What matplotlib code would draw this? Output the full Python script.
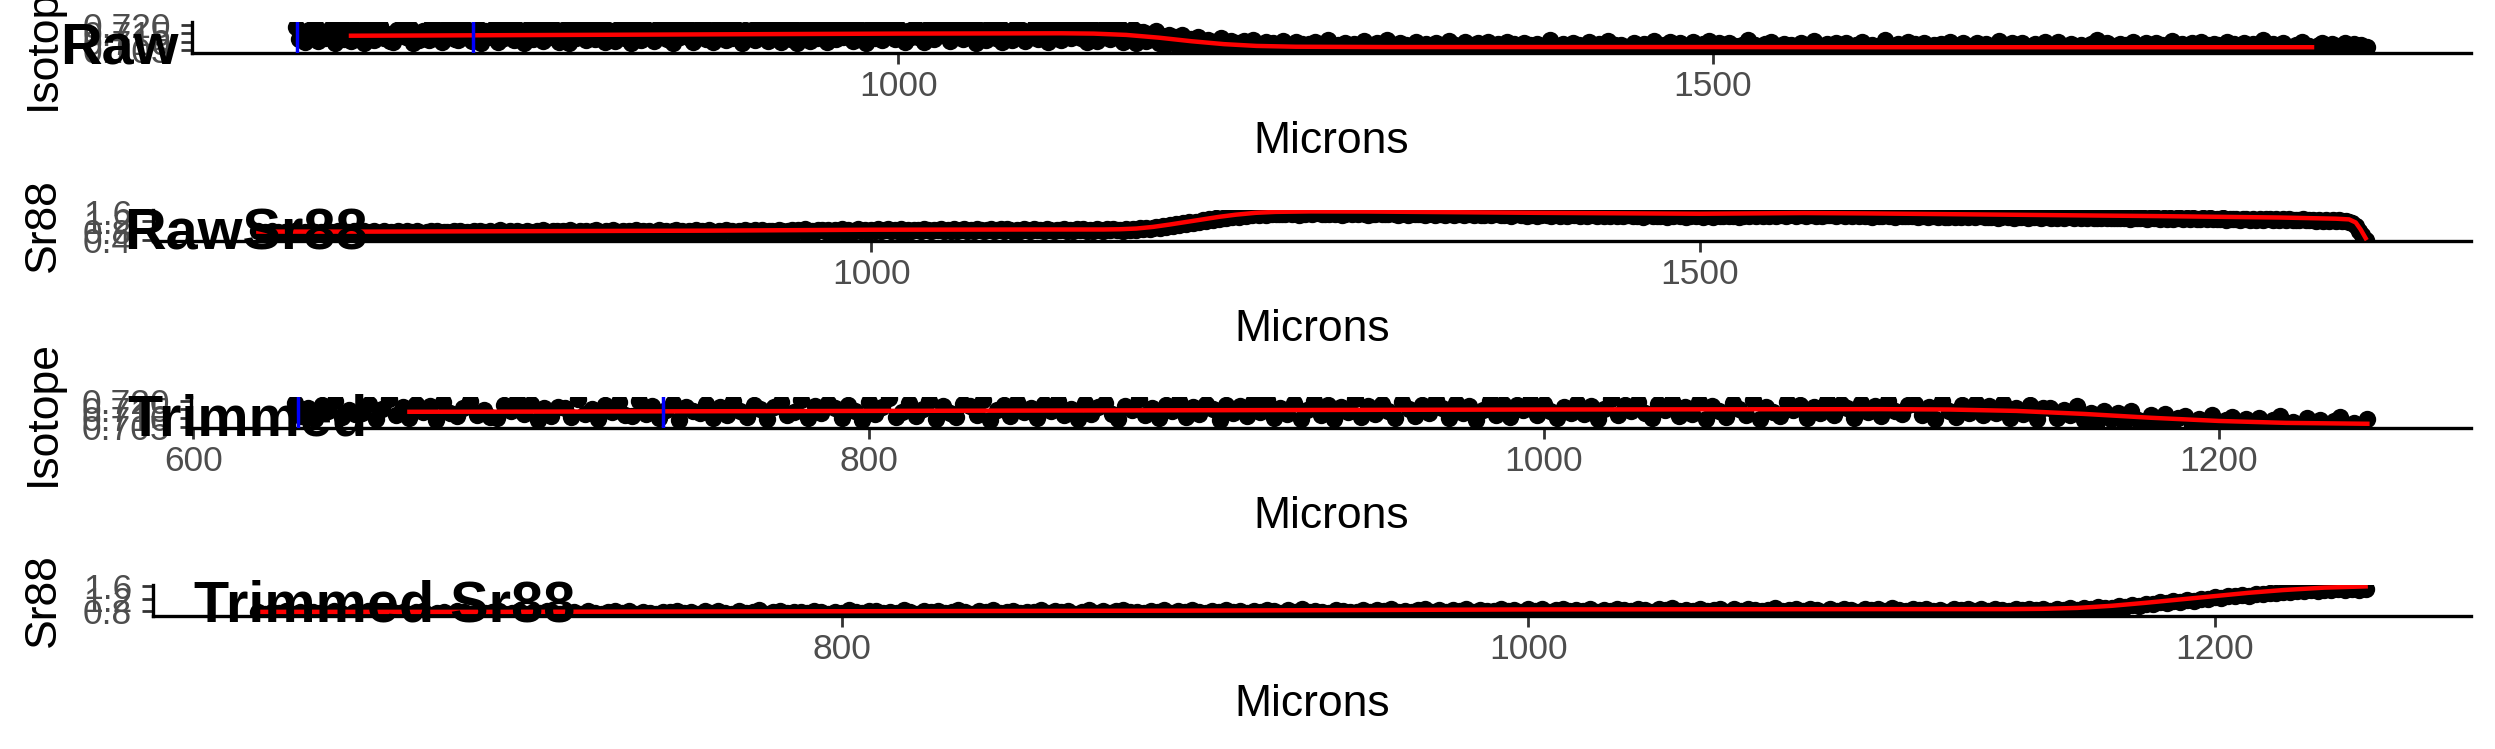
import numpy as np
import matplotlib
matplotlib.use("Agg")
import matplotlib.pyplot as plt

plt.rcParams['font.family'] = ['Liberation Sans', 'DejaVu Sans']

W, H, DPI = 2495, 749, 100

# laser track: first spot and spot spacing (microns)
START_UM = 630
STEP_UM = 2
TRIM_END_UM = 1244

# 87Sr/86Sr ratio, one value per spot (20 microns per row)
iso_raw = [
    0.7187, 0.7114, 0.7157, 0.7097, 0.7172, 0.7139, 0.7200, 0.7106, 0.7148, 0.7123,
    0.7128, 0.7181, 0.7093, 0.7153, 0.7206, 0.7117, 0.7164, 0.7101, 0.7178, 0.7136,
    0.7169, 0.7090, 0.7192, 0.7132, 0.7110, 0.7160, 0.7195, 0.7119, 0.7149, 0.7104,
    0.7099, 0.7174, 0.7142, 0.7203, 0.7125, 0.7183, 0.7088, 0.7155, 0.7112, 0.7166,
    0.7159, 0.7107, 0.7208, 0.7121, 0.7151, 0.7095, 0.7176, 0.7134, 0.7190, 0.7116,
    0.7111, 0.7197, 0.7126, 0.7171, 0.7102, 0.7147, 0.7185, 0.7092, 0.7163, 0.7138,
    0.7131, 0.7182, 0.7098, 0.7165, 0.7120, 0.7199, 0.7143, 0.7108, 0.7176, 0.7152,
    0.7094, 0.7161, 0.7189, 0.7115, 0.7137, 0.7205, 0.7103, 0.7168, 0.7127, 0.7184,
    0.7156, 0.7100, 0.7173, 0.7140, 0.7091, 0.7194, 0.7122, 0.7162, 0.7212, 0.7109,
    0.7135, 0.7186, 0.7113, 0.7150, 0.7198, 0.7096, 0.7170, 0.7129, 0.7105, 0.7180,
    0.7167, 0.7119, 0.7201, 0.7089, 0.7144, 0.7175, 0.7110, 0.7191, 0.7133, 0.7158,
    0.7102, 0.7179, 0.7141, 0.7196, 0.7118, 0.7154, 0.7093, 0.7185, 0.7126, 0.7163,
    0.7188, 0.7124, 0.7097, 0.7170, 0.7146, 0.7207, 0.7115, 0.7159, 0.7100, 0.7177,
    0.7138, 0.7195, 0.7107, 0.7164, 0.7121, 0.7183, 0.7150, 0.7092, 0.7173, 0.7130,
    0.7170, 0.7112, 0.7191, 0.7136, 0.7203, 0.7101, 0.7159, 0.7125, 0.7184, 0.7095,
    0.7145, 0.7198, 0.7118, 0.7176, 0.7093, 0.7162, 0.7133, 0.7210, 0.7106, 0.7168,
    0.7123, 0.7181, 0.7140, 0.7099, 0.7194, 0.7152, 0.7114, 0.7175, 0.7131, 0.7205,
    0.7160, 0.7103, 0.7186, 0.7127, 0.7169, 0.7092, 0.7147, 0.7199, 0.7120, 0.7178,
    0.7109, 0.7172, 0.7149, 0.7196, 0.7116, 0.7183, 0.7138, 0.7100, 0.7165, 0.7128,
    0.7187, 0.7125, 0.7168, 0.7097, 0.7154, 0.7206, 0.7118, 0.7176, 0.7140, 0.7193,
    0.7132, 0.7101, 0.7179, 0.7145, 0.7198, 0.7113, 0.7163, 0.7126, 0.7189, 0.7094,
    0.7171, 0.7139, 0.7107, 0.7185, 0.7152, 0.7120, 0.7202, 0.7096, 0.7166, 0.7135,
    0.7110, 0.7190, 0.7148, 0.7174, 0.7103, 0.7161, 0.7129, 0.7195, 0.7117, 0.7182,
    0.7157, 0.7099, 0.7186, 0.7134, 0.7170, 0.7111, 0.7200, 0.7143, 0.7121, 0.7177,
    0.7181, 0.7120, 0.7162, 0.7097, 0.7195, 0.7138, 0.7105, 0.7173, 0.7129, 0.7188,
    0.7116, 0.7170, 0.7131, 0.7184, 0.7098, 0.7155, 0.7122, 0.7176, 0.7093, 0.7160,
    0.7158, 0.7101, 0.7149, 0.7115, 0.7167, 0.7088, 0.7132, 0.7079, 0.7141, 0.7095,
    0.7128, 0.7072, 0.7139, 0.7090, 0.7064, 0.7118, 0.7081, 0.7126, 0.7060, 0.7102,
    0.7112, 0.7058, 0.7097, 0.7069, 0.7120, 0.7062, 0.7088, 0.7105, 0.7055, 0.7093,
    0.7061, 0.7101, 0.7054, 0.7089, 0.7110, 0.7066, 0.7078, 0.7052, 0.7098, 0.7071,
    0.7092, 0.7057, 0.7081, 0.7104, 0.7053, 0.7075, 0.7060, 0.7096, 0.7051, 0.7085,
    0.7048, 0.7083, 0.7062, 0.7099, 0.7041, 0.7074, 0.7056, 0.7108, 0.7066, 0.7045,
    0.7079, 0.7052, 0.7093, 0.7060, 0.7039, 0.7086, 0.7070, 0.7047, 0.7101, 0.7058,
    0.7065, 0.7042, 0.7088, 0.7054, 0.7076, 0.7110, 0.7049, 0.7072, 0.7057, 0.7094,
    0.7046, 0.7081, 0.7061, 0.7038, 0.7097, 0.7068, 0.7053, 0.7085, 0.7044, 0.7075,
    0.7090, 0.7055, 0.7071, 0.7043, 0.7104, 0.7059, 0.7080, 0.7048, 0.7067, 0.7096,
    0.7052, 0.7077, 0.7040, 0.7089, 0.7063, 0.7050, 0.7100, 0.7069, 0.7045, 0.7082,
    0.7073, 0.7044, 0.7095, 0.7058, 0.7084, 0.7039, 0.7066, 0.7092, 0.7054, 0.7078,
    0.7041, 0.7087, 0.7061, 0.7074, 0.7049, 0.7112, 0.7057, 0.7070, 0.7043, 0.7083,
    0.7068, 0.7051, 0.7091, 0.7046, 0.7079, 0.7062, 0.7038, 0.7098, 0.7059, 0.7072,
    0.7086, 0.7047, 0.7064, 0.7102, 0.7055, 0.7076, 0.7042, 0.7081, 0.7053, 0.7067,
    0.7050, 0.7093, 0.7060, 0.7039, 0.7085, 0.7071, 0.7048, 0.7106, 0.7063, 0.7044,
    0.7077, 0.7056, 0.7099, 0.7045, 0.7069, 0.7088, 0.7041, 0.7074, 0.7058, 0.7095,
    0.7062, 0.7040, 0.7082, 0.7054, 0.7101, 0.7066, 0.7049, 0.7090, 0.7043, 0.7070,
    0.7089, 0.7052, 0.7073, 0.7046, 0.7080, 0.7059, 0.7109, 0.7044, 0.7076, 0.7057,
    0.7043, 0.7084, 0.7065, 0.7097, 0.7051, 0.7072, 0.7038, 0.7087, 0.7061, 0.7080,
    0.7070, 0.7047, 0.7092, 0.7058, 0.7040, 0.7078, 0.7103, 0.7054, 0.7067, 0.7045,
    0.7083, 0.7060, 0.7042, 0.7094, 0.7066, 0.7049, 0.7088, 0.7071, 0.7039, 0.7079,
    0.7055, 0.7098, 0.7064, 0.7044, 0.7081, 0.7053, 0.7075, 0.7046, 0.7111, 0.7062,
    0.7074, 0.7041, 0.7087, 0.7059, 0.7068, 0.7096, 0.7048, 0.7082, 0.7057, 0.7043,
    0.7091, 0.7063, 0.7050, 0.7078, 0.7040, 0.7085, 0.7069, 0.7052, 0.7099, 0.7060,
    0.7046, 0.7076, 0.7093, 0.7055, 0.7071, 0.7042, 0.7089, 0.7064, 0.7048, 0.7083,
    0.7067, 0.7050, 0.7080, 0.7105, 0.7045, 0.7073, 0.7058, 0.7094, 0.7041, 0.7077,
    0.7088, 0.7054, 0.7039, 0.7070, 0.7084, 0.7061, 0.7047, 0.7100, 0.7065, 0.7051,
    0.7072, 0.7096, 0.7049, 0.7063, 0.7042, 0.7086, 0.7075, 0.7053, 0.7081, 0.7044,
    0.7059, 0.7082, 0.7066, 0.7107, 0.7048, 0.7069, 0.7091, 0.7040, 0.7074, 0.7057,
    0.7085, 0.7043, 0.7078, 0.7055, 0.7097, 0.7062, 0.7046, 0.7071, 0.7089, 0.7050,
    0.7064, 0.7092, 0.7041, 0.7080, 0.7058, 0.7074, 0.7102, 0.7049, 0.7067, 0.7083,
    0.7047, 0.7071, 0.7088, 0.7056, 0.7039, 0.7095, 0.7063, 0.7078, 0.7045, 0.7086,
    0.7076, 0.7053, 0.7066, 0.7099, 0.7044, 0.7082, 0.7058, 0.7070, 0.7093, 0.7048,
    0.7062, 0.7087, 0.7050, 0.7074, 0.7108, 0.7057, 0.7041, 0.7084, 0.7066, 0.7079,
    0.7090, 0.7045, 0.7069, 0.7055, 0.7081, 0.7063, 0.7097, 0.7048, 0.7073, 0.7058,
    0.7054, 0.7078, 0.7094, 0.7043, 0.7067, 0.7085, 0.7052, 0.7071, 0.7060, 0.7088,
    0.7070, 0.7049, 0.7083, 0.7061, 0.7076, 0.7056, 0.7068,
]

# Sr88 signal (V), one value per spot (20 microns per row)
sr88_raw = [
    0.77, 0.68, 0.74, 0.71, 0.79, 0.69, 0.75, 0.67, 0.76, 0.72,
    0.70, 0.78, 0.73, 0.67, 0.76, 0.71, 0.79, 0.74, 0.68, 0.75,
    0.72, 0.77, 0.69, 0.74, 0.78, 0.67, 0.73, 0.76, 0.70, 0.79,
    0.74, 0.68, 0.77, 0.71, 0.75, 0.79, 0.69, 0.72, 0.78, 0.70,
    0.76, 0.71, 0.80, 0.73, 0.68, 0.77, 0.74, 0.70, 0.79, 0.72,
    0.69, 0.75, 0.78, 0.72, 0.80, 0.70, 0.76, 0.73, 0.68, 0.77,
    0.75, 0.79, 0.71, 0.74, 0.69, 0.78, 0.72, 0.80, 0.73, 0.70,
    0.78, 0.72, 0.76, 0.81, 0.70, 0.74, 0.79, 0.71, 0.77, 0.75,
    0.71, 0.80, 0.74, 0.69, 0.77, 0.73, 0.81, 0.75, 0.72, 0.78,
    0.79, 0.73, 0.77, 0.71, 0.82, 0.75, 0.70, 0.78, 0.74, 0.80,
    0.72, 0.77, 0.81, 0.74, 0.70, 0.79, 0.76, 0.82, 0.73, 0.75,
    0.80, 0.71, 0.77, 0.75, 0.82, 0.72, 0.78, 0.74, 0.79, 0.70,
    0.76, 0.81, 0.73, 0.79, 0.71, 0.78, 0.83, 0.74, 0.77, 0.72,
    0.80, 0.75, 0.82, 0.72, 0.78, 0.74, 0.81, 0.76, 0.71, 0.79,
    0.74, 0.82, 0.77, 0.80, 0.72, 0.79, 0.75, 0.83, 0.78, 0.73,
    0.81, 0.76, 0.84, 0.74, 0.80, 0.77, 0.73, 0.82, 0.79, 0.75,
    0.77, 0.83, 0.75, 0.81, 0.78, 0.85, 0.74, 0.80, 0.76, 0.82,
    0.84, 0.77, 0.81, 0.75, 0.83, 0.79, 0.86, 0.76, 0.82, 0.78,
    0.78, 0.85, 0.80, 0.83, 0.76, 0.84, 0.79, 0.87, 0.77, 0.82,
    0.85, 0.78, 0.83, 0.80, 0.87, 0.76, 0.82, 0.79, 0.84, 0.81,
    0.79, 0.86, 0.81, 0.77, 0.84, 0.82, 0.88, 0.78, 0.83, 0.80,
    0.85, 0.79, 0.83, 0.87, 0.77, 0.84, 0.80, 0.86, 0.81, 0.78,
    0.83, 0.88, 0.78, 0.82, 0.85, 0.79, 0.87, 0.81, 0.76, 0.84,
    0.80, 0.85, 0.82, 0.77, 0.86, 0.81, 0.84, 0.79, 0.88, 0.83,
    0.78, 0.84, 0.81, 0.87, 0.79, 0.83, 0.77, 0.85, 0.82, 0.86,
    0.80, 0.84, 0.78, 0.86, 0.82, 0.79, 0.85, 0.81, 0.87, 0.83,
    0.84, 0.80, 0.86, 0.82, 0.88, 0.83, 0.90, 0.86, 0.93, 0.89,
    0.90, 0.95, 0.93, 0.99, 0.97, 1.03, 1.01, 1.07, 1.06, 1.11,
    1.09, 1.15, 1.13, 1.19, 1.18, 1.24, 1.22, 1.28, 1.27, 1.32,
    1.30, 1.36, 1.34, 1.39, 1.37, 1.43, 1.40, 1.45, 1.44, 1.48,
    1.45, 1.49, 1.47, 1.51, 1.48, 1.52, 1.49, 1.53, 1.50, 1.52,
    1.49, 1.54, 1.50, 1.55, 1.48, 1.53, 1.51, 1.56, 1.50, 1.54,
    1.55, 1.49, 1.53, 1.50, 1.56, 1.51, 1.54, 1.48, 1.52, 1.55,
    1.50, 1.54, 1.49, 1.55, 1.52, 1.48, 1.53, 1.51, 1.56, 1.50,
    1.53, 1.49, 1.54, 1.50, 1.47, 1.52, 1.55, 1.48, 1.51, 1.53,
    1.49, 1.53, 1.47, 1.51, 1.54, 1.48, 1.50, 1.52, 1.46, 1.53,
    1.51, 1.46, 1.50, 1.53, 1.47, 1.49, 1.52, 1.45, 1.50, 1.48,
    1.47, 1.51, 1.45, 1.49, 1.52, 1.46, 1.48, 1.50, 1.44, 1.49,
    1.50, 1.45, 1.48, 1.43, 1.47, 1.50, 1.44, 1.46, 1.49, 1.45,
    1.43, 1.47, 1.49, 1.44, 1.46, 1.42, 1.48, 1.45, 1.50, 1.44,
    1.47, 1.42, 1.46, 1.48, 1.43, 1.45, 1.41, 1.47, 1.44, 1.49,
    1.43, 1.46, 1.41, 1.45, 1.48, 1.42, 1.44, 1.47, 1.40, 1.45,
    1.46, 1.41, 1.44, 1.42, 1.47, 1.40, 1.45, 1.43, 1.46, 1.41,
    1.44, 1.40, 1.43, 1.46, 1.41, 1.45, 1.39, 1.42, 1.44, 1.40,
    1.45, 1.41, 1.44, 1.47, 1.42, 1.43, 1.46, 1.40, 1.44, 1.45,
    1.42, 1.46, 1.43, 1.47, 1.41, 1.45, 1.44, 1.48, 1.43, 1.46,
    1.47, 1.43, 1.46, 1.49, 1.44, 1.45, 1.48, 1.42, 1.46, 1.47,
    1.44, 1.47, 1.42, 1.46, 1.45, 1.48, 1.43, 1.45, 1.47, 1.41,
    1.46, 1.41, 1.45, 1.43, 1.47, 1.42, 1.44, 1.40, 1.45, 1.43,
    1.41, 1.45, 1.42, 1.44, 1.40, 1.46, 1.43, 1.41, 1.44, 1.42,
    1.43, 1.39, 1.42, 1.44, 1.40, 1.41, 1.43, 1.38, 1.42, 1.40,
    1.38, 1.42, 1.40, 1.43, 1.37, 1.41, 1.39, 1.42, 1.38, 1.41,
    1.41, 1.37, 1.40, 1.38, 1.42, 1.36, 1.39, 1.41, 1.37, 1.40,
    1.36, 1.40, 1.38, 1.41, 1.35, 1.39, 1.37, 1.40, 1.36, 1.39,
    1.39, 1.35, 1.38, 1.36, 1.40, 1.34, 1.37, 1.39, 1.35, 1.38,
    1.34, 1.37, 1.35, 1.38, 1.33, 1.36, 1.34, 1.37, 1.33, 1.36,
    1.36, 1.32, 1.35, 1.33, 1.37, 1.31, 1.34, 1.36, 1.32, 1.35,
    1.31, 1.34, 1.32, 1.35, 1.30, 1.33, 1.31, 1.34, 1.30, 1.33,
    1.33, 1.29, 1.32, 1.30, 1.34, 1.28, 1.31, 1.33, 1.29, 1.32,
    1.28, 1.31, 1.29, 1.32, 1.27, 1.30, 1.28, 1.31, 1.27, 1.30,
    1.30, 1.26, 1.29, 1.27, 1.31, 1.25, 1.28, 1.30, 1.26, 1.29,
    1.25, 1.28, 1.26, 1.29, 1.24, 1.27, 1.25, 1.28, 1.24, 1.27,
    1.26, 1.22, 1.25, 1.23, 1.27, 1.21, 1.24, 1.22, 1.25, 1.20,
    1.22, 1.18, 1.12, 0.98, 0.80, 0.60, 0.42,
]

# running means (red lines)
iso_smooth_um = [664, 700, 800, 900, 1000, 1100, 1120, 1140, 1160, 1180,
                 1200, 1220, 1244, 1300, 1400, 1500, 1600, 1700, 1800, 1868]
iso_smooth = [0.7136, 0.7137, 0.7141, 0.7145, 0.7149, 0.7151, 0.7149, 0.7141, 0.7124, 0.7102,
              0.7084, 0.7073, 0.7068, 0.7066, 0.7066, 0.7066, 0.7065, 0.7065, 0.7065, 0.7065]

sr88_smooth_um = [630, 700, 800, 900, 1000, 1100, 1140, 1150, 1160, 1170,
                  1180, 1190, 1200, 1210, 1220, 1232, 1244, 1265, 1300, 1400,
                  1500, 1563, 1600, 1670, 1777, 1850, 1884, 1892, 1896, 1899, 1902]
sr88_smooth = [0.76, 0.76, 0.78, 0.80, 0.84, 0.85, 0.85, 0.86, 0.89, 0.96,
               1.06, 1.17, 1.28, 1.39, 1.48, 1.56, 1.60, 1.62, 1.615, 1.56,
               1.52, 1.55, 1.535, 1.49, 1.42, 1.36, 1.31, 1.28, 1.15, 0.85, 0.48]

# selected window (blue lines)
window_um = [631, 739]

panel_titles = ['Raw', 'RawSr88', 'Trimmed', 'Trimmed Sr88']
y_titles = ['Isotope', 'Sr88', 'Isotope', 'Sr88']
x_ticks = [[1000, 1500], [1000, 1500], [600, 800, 1000, 1200], [800, 1000, 1200]]
y_ticks = [[0.705, 0.710, 0.715, 0.720], [0.4, 0.8, 1.2, 1.6],
           [0.705, 0.710, 0.715, 0.720], [0.8, 1.2, 1.6]]
y_ticklabels = [['0.705', '0.710', '0.715', '0.720'], ['0.4', '0.8', '1.2', '1.6'],
                ['0.705', '0.710', '0.715', '0.720'], ['0.8', '1.2', '1.6']]

iso = np.array(iso_raw)
sr88 = np.array(sr88_raw)
um_iso = START_UM + STEP_UM * np.arange(len(iso))
um_sr = START_UM + STEP_UM * np.arange(len(sr88))
iso_sx, iso_sy = np.array(iso_smooth_um), np.array(iso_smooth)
sr_sx, sr_sy = np.array(sr88_smooth_um), np.array(sr88_smooth)

k_iso, k_sr = um_iso <= TRIM_END_UM, um_sr <= TRIM_END_UM
ks_iso, ks_sr = iso_sx <= TRIM_END_UM, sr_sx <= TRIM_END_UM

panels = [
    (um_iso, iso, iso_sx, iso_sy, True),
    (um_sr, sr88, sr_sx, sr_sy, False),
    (um_iso[k_iso], iso[k_iso], iso_sx[ks_iso], iso_sy[ks_iso], True),
    (um_sr[k_sr], sr88[k_sr], sr_sx[ks_sr], sr_sy[ks_sr], False),
]

# pixel boxes: left, top, right, bottom
boxes = [(192, 22, 2471, 53), (153, 210, 2471, 241), (191, 397, 2471, 428), (153, 585, 2471, 616)]
title_pos = [(60, 63), (124, 250), (127, 436), (194, 622)]

fig = plt.figure(figsize=(W / DPI, H / DPI), dpi=DPI)

for k, (x, y, sx, sy, show_window) in enumerate(panels):
    l, t, r, b = boxes[k]
    ax = fig.add_axes([l / W, 1 - b / H, (r - l) / W, (b - t) / H])
    ax.plot(x, y, 'o', color='black', ms=12.5, mew=0, zorder=2)
    ax.plot(sx, sy, color='red', lw=3.2, zorder=3)
    if show_window:
        for v in window_um:
            ax.axvline(v, color='blue', lw=2.5, zorder=4)
    ax.margins(x=0.05, y=0.05)

    ax.set_xticks(x_ticks[k])
    ax.set_xticklabels([str(v) for v in x_ticks[k]])
    ax.set_yticks(y_ticks[k], labels=y_ticklabels[k])
    ax.tick_params(axis='both', direction='out', length=8, width=2, color='#333333',
                   labelsize=25.5, labelcolor='#4D4D4D')
    ax.tick_params(axis='x', pad=4)
    ax.tick_params(axis='y', pad=7)
    for side in ['top', 'right']:
        ax.spines[side].set_visible(False)
    for side in ['left', 'bottom']:
        ax.spines[side].set_linewidth(2.4)
        ax.spines[side].set_color('black')

    fig.text((l + r) / 2 / W, 1 - (b + 100) / H, 'Microns', fontsize=32,
             ha='center', va='baseline')
    fig.text(64 / W, 1 - (t + b) / 2 / H, y_titles[k], fontsize=32, rotation=90,
             ha='right', va='center')
    tx, ty = title_pos[k]
    fig.text(tx / W, 1 - ty / H, panel_titles[k], fontsize=41.5, fontweight='bold',
             ha='left', va='baseline')

fig.savefig('out.png', dpi=DPI)
